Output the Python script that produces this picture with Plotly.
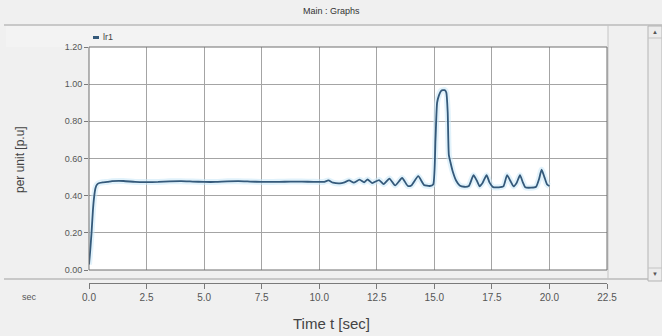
import plotly.graph_objects as go

# ---- data -------------------------------------------------------------
time_s = [0.0, 0.05, 0.11, 0.17, 0.22, 0.28, 0.35, 0.45, 0.6, 0.8, 1.0, 1.5,
          2.0, 2.5, 3.0, 3.5, 4.0, 4.5, 5.0, 5.5, 6.0, 6.5, 7.0, 7.5, 8.0,
          8.5, 9.0, 9.5, 10.0, 10.2, 10.4, 10.6, 10.9, 11.1, 11.3, 11.5,
          11.75, 11.95, 12.1, 12.3, 12.6, 12.8, 13.05, 13.3, 13.6, 13.85,
          14.0, 14.3, 14.55, 14.8, 14.95, 15.05, 15.12, 15.2, 15.3, 15.45,
          15.52, 15.58, 15.63, 15.7, 15.8, 15.95, 16.1, 16.3, 16.5, 16.7,
          16.85, 16.97, 17.1, 17.27, 17.4, 17.55, 17.8, 18.0, 18.16, 18.3,
          18.44, 18.58, 18.72, 18.85, 18.95, 19.2, 19.42, 19.55, 19.66,
          19.78, 19.9, 20.0]
lr1_pu = [0.03, 0.10, 0.20, 0.32, 0.39, 0.44, 0.46, 0.468, 0.472, 0.474,
          0.478, 0.479, 0.474, 0.473, 0.474, 0.477, 0.478, 0.476, 0.474,
          0.474, 0.477, 0.478, 0.476, 0.474, 0.474, 0.475, 0.476, 0.475,
          0.474, 0.474, 0.482, 0.470, 0.466, 0.472, 0.482, 0.470, 0.486,
          0.472, 0.487, 0.468, 0.484, 0.462, 0.492, 0.455, 0.495, 0.452,
          0.455, 0.505, 0.458, 0.452, 0.46, 0.70, 0.90, 0.94, 0.965, 0.968,
          0.955, 0.85, 0.62, 0.58, 0.53, 0.48, 0.455, 0.448, 0.452, 0.51,
          0.48, 0.45, 0.47, 0.51, 0.47, 0.446, 0.445, 0.45, 0.51, 0.48,
          0.45, 0.47, 0.51, 0.47, 0.445, 0.443, 0.448, 0.49, 0.54, 0.50,
          0.46, 0.452]

x_ticks = [0.0, 2.5, 5.0, 7.5, 10.0, 12.5, 15.0, 17.5, 20.0, 22.5]
y_ticks = [0.0, 0.2, 0.4, 0.6, 0.8, 1.0, 1.2]

# ---- geometry helpers (pixels -> paper) -------------------------------
W, H = 662, 336
ML, MR, MT, MB = 89, 55, 47, 40
PW, PH = W - ML - MR, H - MT - MB


def px(x):
    return (x - ML) / PW


def py(y):
    return (H - MB - y) / PH


PLOT_BOTTOM = 270
AXIS_LINE_Y = 283

fig = go.Figure()

# soft halo under the curve
fig.add_trace(go.Scatter(
    x=time_s, y=lr1_pu, mode="lines",
    line=dict(color="rgba(200,232,248,0.55)", width=6, shape="spline", smoothing=0.5),
    hoverinfo="skip", showlegend=False))
fig.add_trace(go.Scatter(
    x=time_s, y=lr1_pu, mode="lines", name="lr1",
    line=dict(color="#34597a", width=1.8, shape="spline", smoothing=0.5),
    showlegend=False))

grid = "#a4a4a4"
fig.update_layout(
    width=W, height=H,
    margin=dict(l=ML, r=MR, t=MT, b=MB, pad=0),
    paper_bgcolor="#f0f0f0",
    plot_bgcolor="#ffffff",
    font=dict(family="Liberation Sans, Arial, sans-serif", color="#444"),
    xaxis=dict(
        range=[0, 22.5], tickvals=x_ticks,
        ticktext=[f"{v:.1f}" for v in x_ticks],
        showgrid=True, gridcolor=grid, gridwidth=1, zeroline=False,
        anchor="free", position=py(AXIS_LINE_Y),
        showline=True, linecolor="#7a7a7a", linewidth=1,
        ticks="outside", ticklen=5, tickcolor="#7a7a7a",
        tickfont=dict(size=10, color="#555"),
    ),
    yaxis=dict(
        range=[0, 1.2], tickvals=y_ticks,
        ticktext=[f"{v:.2f}" for v in y_ticks],
        domain=[py(PLOT_BOTTOM), 1],
        showgrid=True, gridcolor=grid, gridwidth=1, zeroline=False,
        showline=False,
        ticks="outside", ticklen=4, tickcolor="#7a7a7a",
        tickfont=dict(size=9, color="#555"),
    ),
)

line_c = "#a0a0a0"
shapes = [
    # header strip behind the legend
    dict(type="rect", xref="paper", yref="paper", x0=px(6), x1=px(608),
         y0=py(47), y1=py(26), fillcolor="#f3f3f3", line=dict(width=0), layer="below"),
    # panel lines
    dict(type="line", xref="paper", yref="paper", x0=px(4), x1=px(662),
         y0=py(25), y1=py(25), line=dict(color=line_c, width=1)),
    dict(type="line", xref="paper", yref="paper", x0=px(4), x1=px(648),
         y0=py(279), y1=py(279), line=dict(color=line_c, width=1)),
    dict(type="line", xref="paper", yref="paper", x0=px(608), x1=px(608),
         y0=py(279), y1=py(25), line=dict(color="#c4c4c4", width=1)),
    # scrollbar
    dict(type="rect", xref="paper", yref="paper", x0=px(648), x1=px(662),
         y0=py(281), y1=py(26), fillcolor="#ececec",
         line=dict(color="#b4b4b4", width=1)),
    dict(type="line", xref="paper", yref="paper", x0=px(648), x1=px(662),
         y0=py(38), y1=py(38), line=dict(color="#c4c4c4", width=1)),
    dict(type="line", xref="paper", yref="paper", x0=px(648), x1=px(662),
         y0=py(268), y1=py(268), line=dict(color="#c4c4c4", width=1)),
    # plot frame
    dict(type="rect", xref="x domain", yref="y domain", x0=0, x1=1, y0=0, y1=1,
         line=dict(color="#6e6e6e", width=1)),
    # legend swatch
    dict(type="rect", xref="paper", yref="paper", x0=px(93), x1=px(99),
         y0=py(39), y1=py(36), fillcolor="#34597a", line=dict(width=0)),
]
fig.update_layout(shapes=shapes)

ann = [
    dict(text="Main : Graphs", x=px(331), y=py(11), font=dict(size=9, color="#333")),
    dict(text="lr1", x=px(101), y=py(37.5), xanchor="left", font=dict(size=9, color="#444")),
    dict(text="per unit [p.u]", x=px(20), y=py(160), textangle=-90,
         font=dict(size=12, color="#444")),
    dict(text="sec", x=px(29), y=py(297), font=dict(size=9, color="#555")),
    dict(text="Time t [sec]", x=px(331), y=py(323), font=dict(size=15, color="#444")),
    dict(text="▲", x=px(655), y=py(32), font=dict(size=6, color="#555")),
    dict(text="▼", x=px(655), y=py(274), font=dict(size=6, color="#555")),
]
for a in ann:
    a.setdefault("xanchor", "center")
    fig.add_annotation(xref="paper", yref="paper", showarrow=False, yanchor="middle", **a)

fig.write_html("out.html")
